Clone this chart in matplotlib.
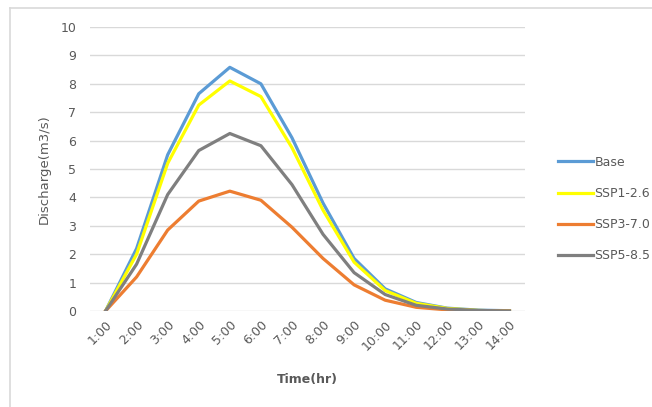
import matplotlib.pyplot as plt
from matplotlib.lines import Line2D

times = ['1:00', '2:00', '3:00', '4:00', '5:00', '6:00', '7:00', '8:00', '9:00',
         '10:00', '11:00', '12:00', '13:00', '14:00']
base = [0, 2.2, 5.5, 7.65, 8.58, 8.0, 6.1, 3.8, 1.85, 0.78, 0.3, 0.1, 0.03, 0.01]
ssp126 = [0, 2.0, 5.2, 7.25, 8.1, 7.55, 5.75, 3.55, 1.72, 0.72, 0.27, 0.09, 0.02, 0.0]
ssp370 = [0, 1.2, 2.85, 3.87, 4.22, 3.9, 2.95, 1.85, 0.92, 0.38, 0.13, 0.04, 0.01, 0.0]
ssp585 = [0, 1.65, 4.1, 5.65, 6.25, 5.82, 4.45, 2.7, 1.35, 0.58, 0.2, 0.07, 0.02, 0.0]

series = [('Base', base, '#5B9BD5'),
          ('SSP1-2.6', ssp126, '#FFFF00'),
          ('SSP3-7.0', ssp370, '#ED7D31'),
          ('SSP5-8.5', ssp585, '#7F7F7F')]

plt.rcParams['font.family'] = ['DejaVu Sans']
txt = '#595959'

fig = plt.figure(figsize=(6.52, 4.07), dpi=100)
# chart-area border (only top and left visible in the reference)
fig.add_artist(Line2D([10 / 652, 10 / 652], [0, 1 - 8 / 407], color='#D9D9D9', lw=1.2))
fig.add_artist(Line2D([10 / 652, 1], [1 - 8 / 407, 1 - 8 / 407], color='#D9D9D9', lw=1.2))

ax = fig.add_axes([90 / 652, 1 - 311 / 407, 435 / 652, 284 / 407])
x = list(range(len(times)))
for name, vals, col in series:
    ax.plot(x, vals, color=col, lw=2.3, label=name, solid_joinstyle='round')

ax.set_xlim(-0.5, len(times) - 0.5)
ax.set_ylim(0, 10)
ax.set_yticks(range(0, 11))
ax.set_xticks(x)
ax.set_xticklabels(times, rotation=45, ha='right', va='top', rotation_mode='anchor')
ax.tick_params(axis='both', length=0, colors=txt, labelsize=9)
ax.tick_params(axis='y', pad=10)
ax.tick_params(axis='x', pad=5)
ax.grid(axis='y', color='#D9D9D9', lw=1)
ax.set_axisbelow(True)
for s in ax.spines.values():
    s.set_visible(False)

ax.set_ylabel('Discharge(m3/s)', color=txt, fontsize=9.5, labelpad=7)
fig.text(307 / 652, 1 - 380 / 407, 'Time(hr)', color=txt, fontsize=9,
         fontweight='bold', ha='center', va='center')

ax.legend(loc='center left', bbox_to_anchor=(547 / 652, 1 - 209 / 407),
          bbox_transform=fig.transFigure, frameon=False, fontsize=9,
          labelcolor=txt, handlelength=2.8, handletextpad=0.1, labelspacing=1.45)

fig.savefig('out.png', dpi=100)
